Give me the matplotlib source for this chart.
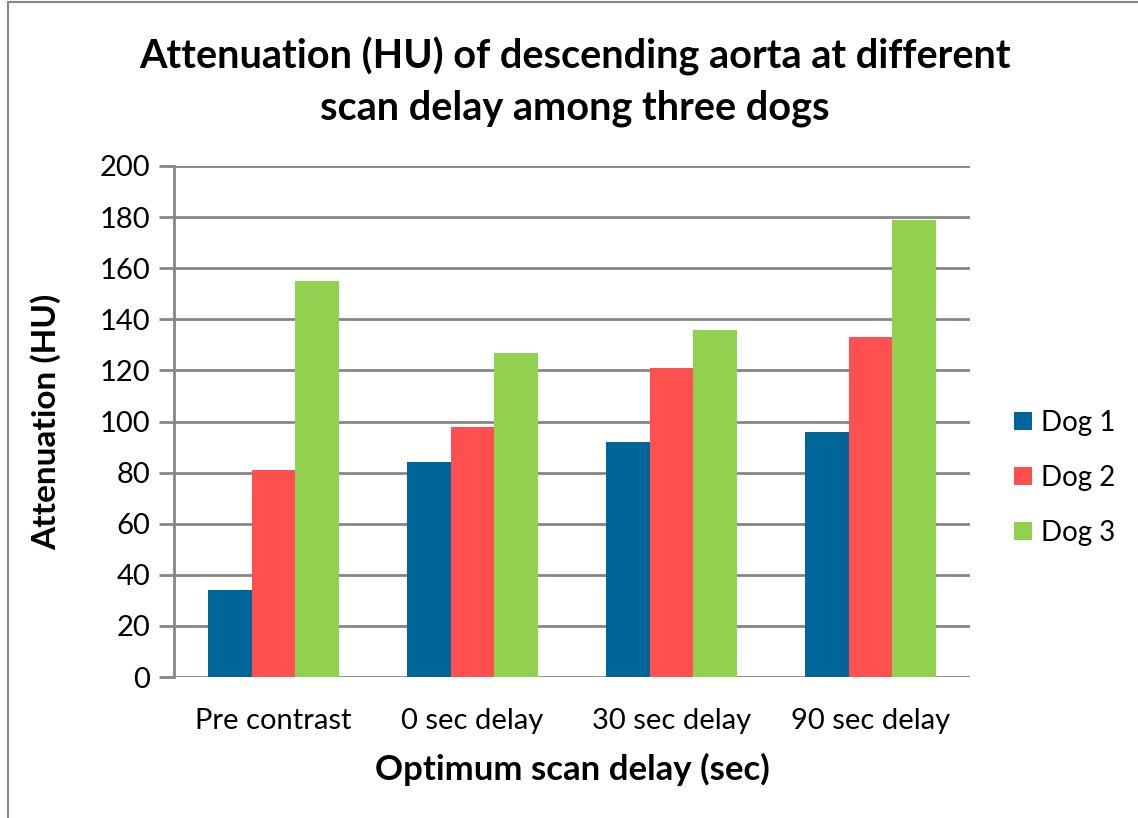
import matplotlib
matplotlib.use("Agg")
from matplotlib import pyplot as plt
from matplotlib.patches import Rectangle
import numpy as np

categories = ['Pre contrast', '0 sec delay', '30 sec delay', '90 sec delay']
dog1 = [34, 84, 92, 96]
dog2 = [81, 98, 121, 133]
dog3 = [155, 127, 136, 179]
series_names = ['Dog 1', 'Dog 2', 'Dog 3']
colors = ['#006699', '#FF5050', '#92D050']
yticks = list(range(0, 201, 20))

plt.rcParams['font.family'] = ['Lato', 'DejaVu Sans']

fig = plt.figure(figsize=(11.38, 8.18), dpi=100)
ax = fig.add_axes([174 / 1138, 1 - 677 / 818, (970 - 174) / 1138, (677 - 166) / 818])

x = np.arange(len(categories))
w = 0.221
for i, (vals, name, c) in enumerate(zip([dog1, dog2, dog3], series_names, colors)):
    ax.bar(x + (i - 1) * w, vals, width=w, color=c, label=name, zorder=3)

ax.set_xlim(-0.5, len(categories) - 0.5)
ax.set_ylim(0, 200)
ax.set_yticks(yticks)
ax.set_xticks(x)
ax.set_xticklabels(categories, fontsize=21)
ax.tick_params(axis='y', labelsize=21, length=11, width=2, color='#868686', pad=6)
ax.tick_params(axis='x', length=0, pad=22)
ax.yaxis.grid(True, color='#868686', linewidth=2, zorder=0)
for s in ['top', 'right', 'bottom']:
    ax.spines[s].set_visible(False)
ax.spines['left'].set_color('#868686')
ax.spines['left'].set_linewidth(2)

fig.text(0.505, 1 - 82 / 818, 'Attenuation (HU) of descending aorta at different\nscan delay among three dogs',
         ha='center', va='center', fontsize=28.5, fontweight='bold', linespacing=1.45)
ax.set_ylabel('Attenuation (HU)', fontsize=24, fontweight='bold', labelpad=28)
ax.set_xlabel('Optimum scan delay (sec)', fontsize=25, fontweight='bold', labelpad=14)

ax.legend(loc='center left', bbox_to_anchor=(1.024, 0.39), frameon=False, fontsize=20,
          handlelength=0.65, handleheight=0.65, labelspacing=1.05, handletextpad=0.32)

fig.patches.append(Rectangle((8 / 1138, -0.1), 1.2, 1.1 - 2 / 818, transform=fig.transFigure,
                             fill=False, edgecolor='#868686', linewidth=1.5))

fig.savefig('out.png', dpi=100)
